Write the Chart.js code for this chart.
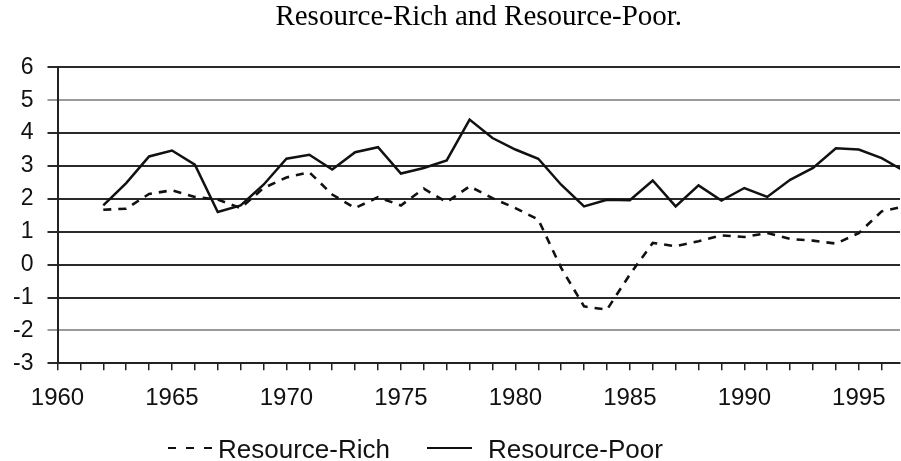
<!DOCTYPE html>
<html>
<head>
<meta charset="utf-8">
<script src="https://cdn.jsdelivr.net/npm/chart.js@4"></script>
<style>
  html, body { margin: 0; padding: 0; background: #fff; }
  #wrap { position: relative; width: 901px; height: 461px; overflow: hidden; }
  #legend {
    position: absolute; left: 168px; top: 434px;
    display: flex; align-items: center;
    font-family: 'Liberation Sans', Arial, sans-serif; font-size: 26px; line-height: 30px;
    color: #111; white-space: nowrap;
  }
  #legend .item { display: flex; align-items: center; }
  #legend svg { display: block; }
</style>
</head>
<body>
<div id="wrap">
  <canvas id="growthChart" width="901" height="461"></canvas>
  <div id="legend"></div>
</div>
<script>
// years on the x axis
const years = [1962, 1963, 1964, 1965, 1966, 1967, 1968, 1969, 1970, 1971, 1972, 1973,
  1974, 1975, 1976, 1977, 1978, 1979, 1980, 1981, 1982, 1983, 1984, 1985,
  1986, 1987, 1988, 1989, 1990, 1991, 1992, 1993, 1994, 1995, 1996, 1997];

// dashed line
const resourceRich = [1.67, 1.70, 2.15, 2.26, 2.06, 1.98, 1.72, 2.33, 2.65, 2.81, 2.13, 1.72,
  2.05, 1.80, 2.31, 1.90, 2.38, 2.02, 1.72, 1.37, -0.10, -1.27, -1.37, -0.30,
  0.66, 0.56, 0.71, 0.89, 0.84, 0.96, 0.78, 0.73, 0.64, 0.96, 1.62, 1.77];

// solid line
const resourcePoor = [1.80, 2.48, 3.29, 3.47, 3.04, 1.60, 1.80, 2.43, 3.22, 3.34, 2.89, 3.42,
  3.57, 2.77, 2.94, 3.17, 4.41, 3.85, 3.50, 3.22, 2.43, 1.77, 1.97, 1.96,
  2.56, 1.77, 2.41, 1.95, 2.33, 2.06, 2.58, 2.94, 3.54, 3.50, 3.24, 2.84];

const yTicks = [6, 5, 4, 3, 2, 1, 0, -1, -2, -3];
const xLabelYears = [1960, 1965, 1970, 1975, 1980, 1985, 1990, 1995];

const toPoints = vals => vals.map((v, i) => ({ x: years[i], y: v }));

// put the title in the middle of the plot area, not of the whole canvas
const centerTitle = {
  id: 'centerTitle',
  afterLayout(chart) {
    const tb = chart.titleBlock, ca = chart.chartArea;
    if (!tb || !ca) return;
    const shift = (ca.left + ca.right) / 2 - (tb.left + tb.right) / 2;
    tb.left += shift;
    tb.right += shift;
  }
};

var ctx = document.getElementById("growthChart").getContext("2d");

var myChart = new Chart(ctx, {
  type: 'line',
  data: {
    datasets: [
      {
        label: "Resource-Rich",
        data: toPoints(resourceRich),
        borderColor: "#111",
        borderWidth: 2.6,
        borderDash: [8, 7],
        pointRadius: 0,
        tension: 0
      },
      {
        label: "Resource-Poor",
        data: toPoints(resourcePoor),
        borderColor: "#111",
        borderWidth: 2.5,
        pointRadius: 0,
        tension: 0
      }
    ]
  },
  options: {
    responsive: false,
    animation: false,
    layout: {
      // x axis height = tick 7 + label 28.8 + 2 * padding
      padding: { left: 0, right: 1, top: 0, bottom: 35.3 }
    },
    plugins: {
      title: {
        display: true,
        text: "Resource-Rich and Resource-Poor.",
        color: "#000",
        font: { family: "'Liberation Serif', 'Times New Roman', serif", size: 29, weight: 'normal' },
        padding: { top: 0, bottom: 32.5 }
      },
      legend: { display: false },
      tooltip: { enabled: false }
    },
    scales: {
      x: {
        type: 'linear',
        min: 1960,
        max: 1996.8,
        afterBuildTicks: scale => {
          const t = [];
          for (let yr = 1960; yr <= 1996; yr++) t.push({ value: yr });
          scale.ticks = t;
        },
        ticks: {
          autoSkip: false,
          maxRotation: 0,
          padding: 13.3,
          color: "#111",
          font: { family: "'Liberation Sans', Arial, sans-serif", size: 24 },
          callback: v => xLabelYears.includes(v) ? String(v) : ''
        },
        grid: {
          drawOnChartArea: false,
          drawTicks: true,
          tickLength: 7,
          color: "#222",
          lineWidth: 1.5
        },
        border: { display: true, color: "#222", width: 2 }
      },
      y: {
        min: -3,
        max: 6,
        afterBuildTicks: scale => {
          scale.ticks = yTicks.map(v => ({ value: v }));
        },
        afterFit: scale => { scale.width = 57.5; },
        ticks: {
          padding: 14,
          color: "#111",
          font: { family: "'Liberation Sans', Arial, sans-serif", size: 23 }
        },
        grid: {
          tickLength: 10,
          lineWidth: 2,
          color: c => (c.tick && (c.tick.value === 5 || c.tick.value === -2)) ? "#9a9a9a" : "#2a2a2a"
        },
        border: { display: true, color: "#222", width: 2 }
      }
    }
  },
  plugins: [centerTitle]
});

// html legend built from the datasets
const legendSpec = [
  { markerWidth: 44, gapAfterMarker: 6, gapAfterText: 37 },
  { markerWidth: 45, gapAfterMarker: 16, gapAfterText: 0 }
];
const legendEl = document.getElementById('legend');
myChart.data.datasets.forEach((ds, i) => {
  const spec = legendSpec[i];
  const item = document.createElement('div');
  item.className = 'item';
  item.style.marginRight = spec.gapAfterText + 'px';
  const dash = ds.borderDash ? 'stroke-dasharray="8 10"' : '';
  item.innerHTML =
    '<svg width="' + spec.markerWidth + '" height="30">' +
    '<line x1="0" y1="14" x2="' + spec.markerWidth + '" y2="14" stroke="' + ds.borderColor +
    '" stroke-width="2.2" ' + dash + '/></svg>' +
    '<span style="margin-left:' + spec.gapAfterMarker + 'px">' + ds.label + '</span>';
  legendEl.appendChild(item);
});
</script>
</body>
</html>
